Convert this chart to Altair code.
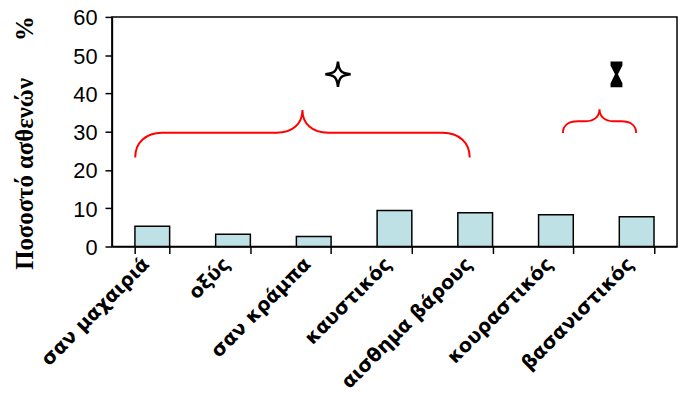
import altair as alt
import pandas as pd

categories = ["σαν μαχαιριά", "οξύς", "σαν κράμπα", "καυστικός",
              "αισθημα βάρους", "κουραστικός", "βασανιστικός"]
values = [5.3, 3.2, 2.6, 9.4, 8.8, 8.3, 7.8]

# annotation anchors (category-index units on x, percent on y)
star_x, star_y = [2.80], [45]
hour_x, hour_y = [6.25], [45]
brace1_x, brace1_y = [2.36], [30]
brace2_x, brace2_y = [6.04], [33]

W, H = 571, 232

bars_df = pd.DataFrame({"cat": categories, "val": values})

xscale = alt.Scale(domain=categories, paddingInner=0.57, paddingOuter=0.285)
yscale = alt.Scale(domain=[0, 60], nice=False)

yaxis = alt.Axis(values=[0, 10, 20, 30, 40, 50, 60],
                 labelFont="Liberation Sans", labelFontSize=22,
                 labelColor="black", tickSize=7, tickWidth=1.5,
                 tickColor="black", domainColor="black",
                 domainWidth=1.5, labelPadding=8, labelOffset=1, grid=False,
                 title="Ποσοστό  ασθενών" + "\u00a0" * 6 + "%",
                 titleFont="Liberation Serif", titleFontSize=25,
                 titleFontWeight="bold", titleColor="black",
                 titleAngle=270, titleAlign="left",
                 titleBaseline="alphabetic",
                 titleX=-80, titleY=255)

bars = alt.Chart(bars_df).mark_bar(
    fill="#bde1e4", stroke="black", strokeWidth=1.5
).encode(
    x=alt.X("cat:N", scale=xscale, sort=categories, title=None,
            axis=alt.Axis(labelAngle=-45, labelFont="DejaVu Sans",
                          labelFontWeight="bold", labelFontSize=19.5,
                          labelColor="black", labelLimit=400,
                          tickBand="extent",
                          tickSize=7, tickWidth=1.5, tickColor="black",
                          domainColor="black", domainWidth=1.5,
                          labelPadding=1, labelOffset=-13)),
    y=alt.Y("val:Q", scale=yscale, axis=yaxis),
)

qx = alt.Scale(domain=[0, 7], nice=False, zero=False)

def anno(xs, ys):
    return alt.Chart(pd.DataFrame({"ax": xs, "val": ys}))

star_path = ("M0,-1 C0.08,-0.25 0.25,-0.08 1,0 C0.25,0.08 0.08,0.25 0,1 "
             "C-0.08,0.25 -0.25,0.08 -1,0 C-0.25,-0.08 -0.08,-0.25 0,-1 Z")
hour_path = ("M-6,-13 L6,-13 L6,-9 L1.5,0 L6,9 L6,13 L-6,13 L-6,9 "
             "L-1.5,0 L-6,-9 Z")
brace1_path = ("M-169,26 C-169,11 -158,1 -142,1 L-26,1 C-10,1 0,-8 0,-22 "
               "C0,-8 10,1 26,1 L142,1 C158,1 169,11 169,26")
brace2_path = ("M-37,13 C-37,5 -31,1 -22,1 L-14,1 C-5,1 0,-4 0,-11 "
               "C0,-4 5,1 14,1 L22,1 C31,1 37,5 37,13")

enc = dict(x=alt.X("ax:Q", scale=qx, axis=None),
           y=alt.Y("val:Q", scale=yscale, axis=yaxis))

star = anno(star_x, star_y).mark_point(
    shape=star_path, size=650, filled=False, fill="white", stroke="black",
    strokeWidth=2.5, opacity=1).encode(**enc)
hour = anno(hour_x, hour_y).mark_point(
    shape=hour_path, size=4, filled=True, color="black", opacity=1
).encode(**enc)
brace1 = anno(brace1_x, brace1_y).mark_point(
    shape=brace1_path, size=4, filled=False, stroke="red",
    strokeWidth=2, opacity=1).encode(**enc)
brace2 = anno(brace2_x, brace2_y).mark_point(
    shape=brace2_path, size=4, filled=False, stroke="red",
    strokeWidth=2, opacity=1).encode(**enc)

chart = alt.layer(bars, star, hour, brace1, brace2).resolve_scale(
    x="independent"
).properties(
    width=W, height=H,
    background="white",
    autosize=alt.AutoSizeParams(type="none"),
    padding={"left": 105, "top": 7, "right": 2, "bottom": 146},
).configure_view(stroke="black", strokeWidth=1.5)

chart.save("out.html", embed_options={"renderer": "svg", "actions": False})
